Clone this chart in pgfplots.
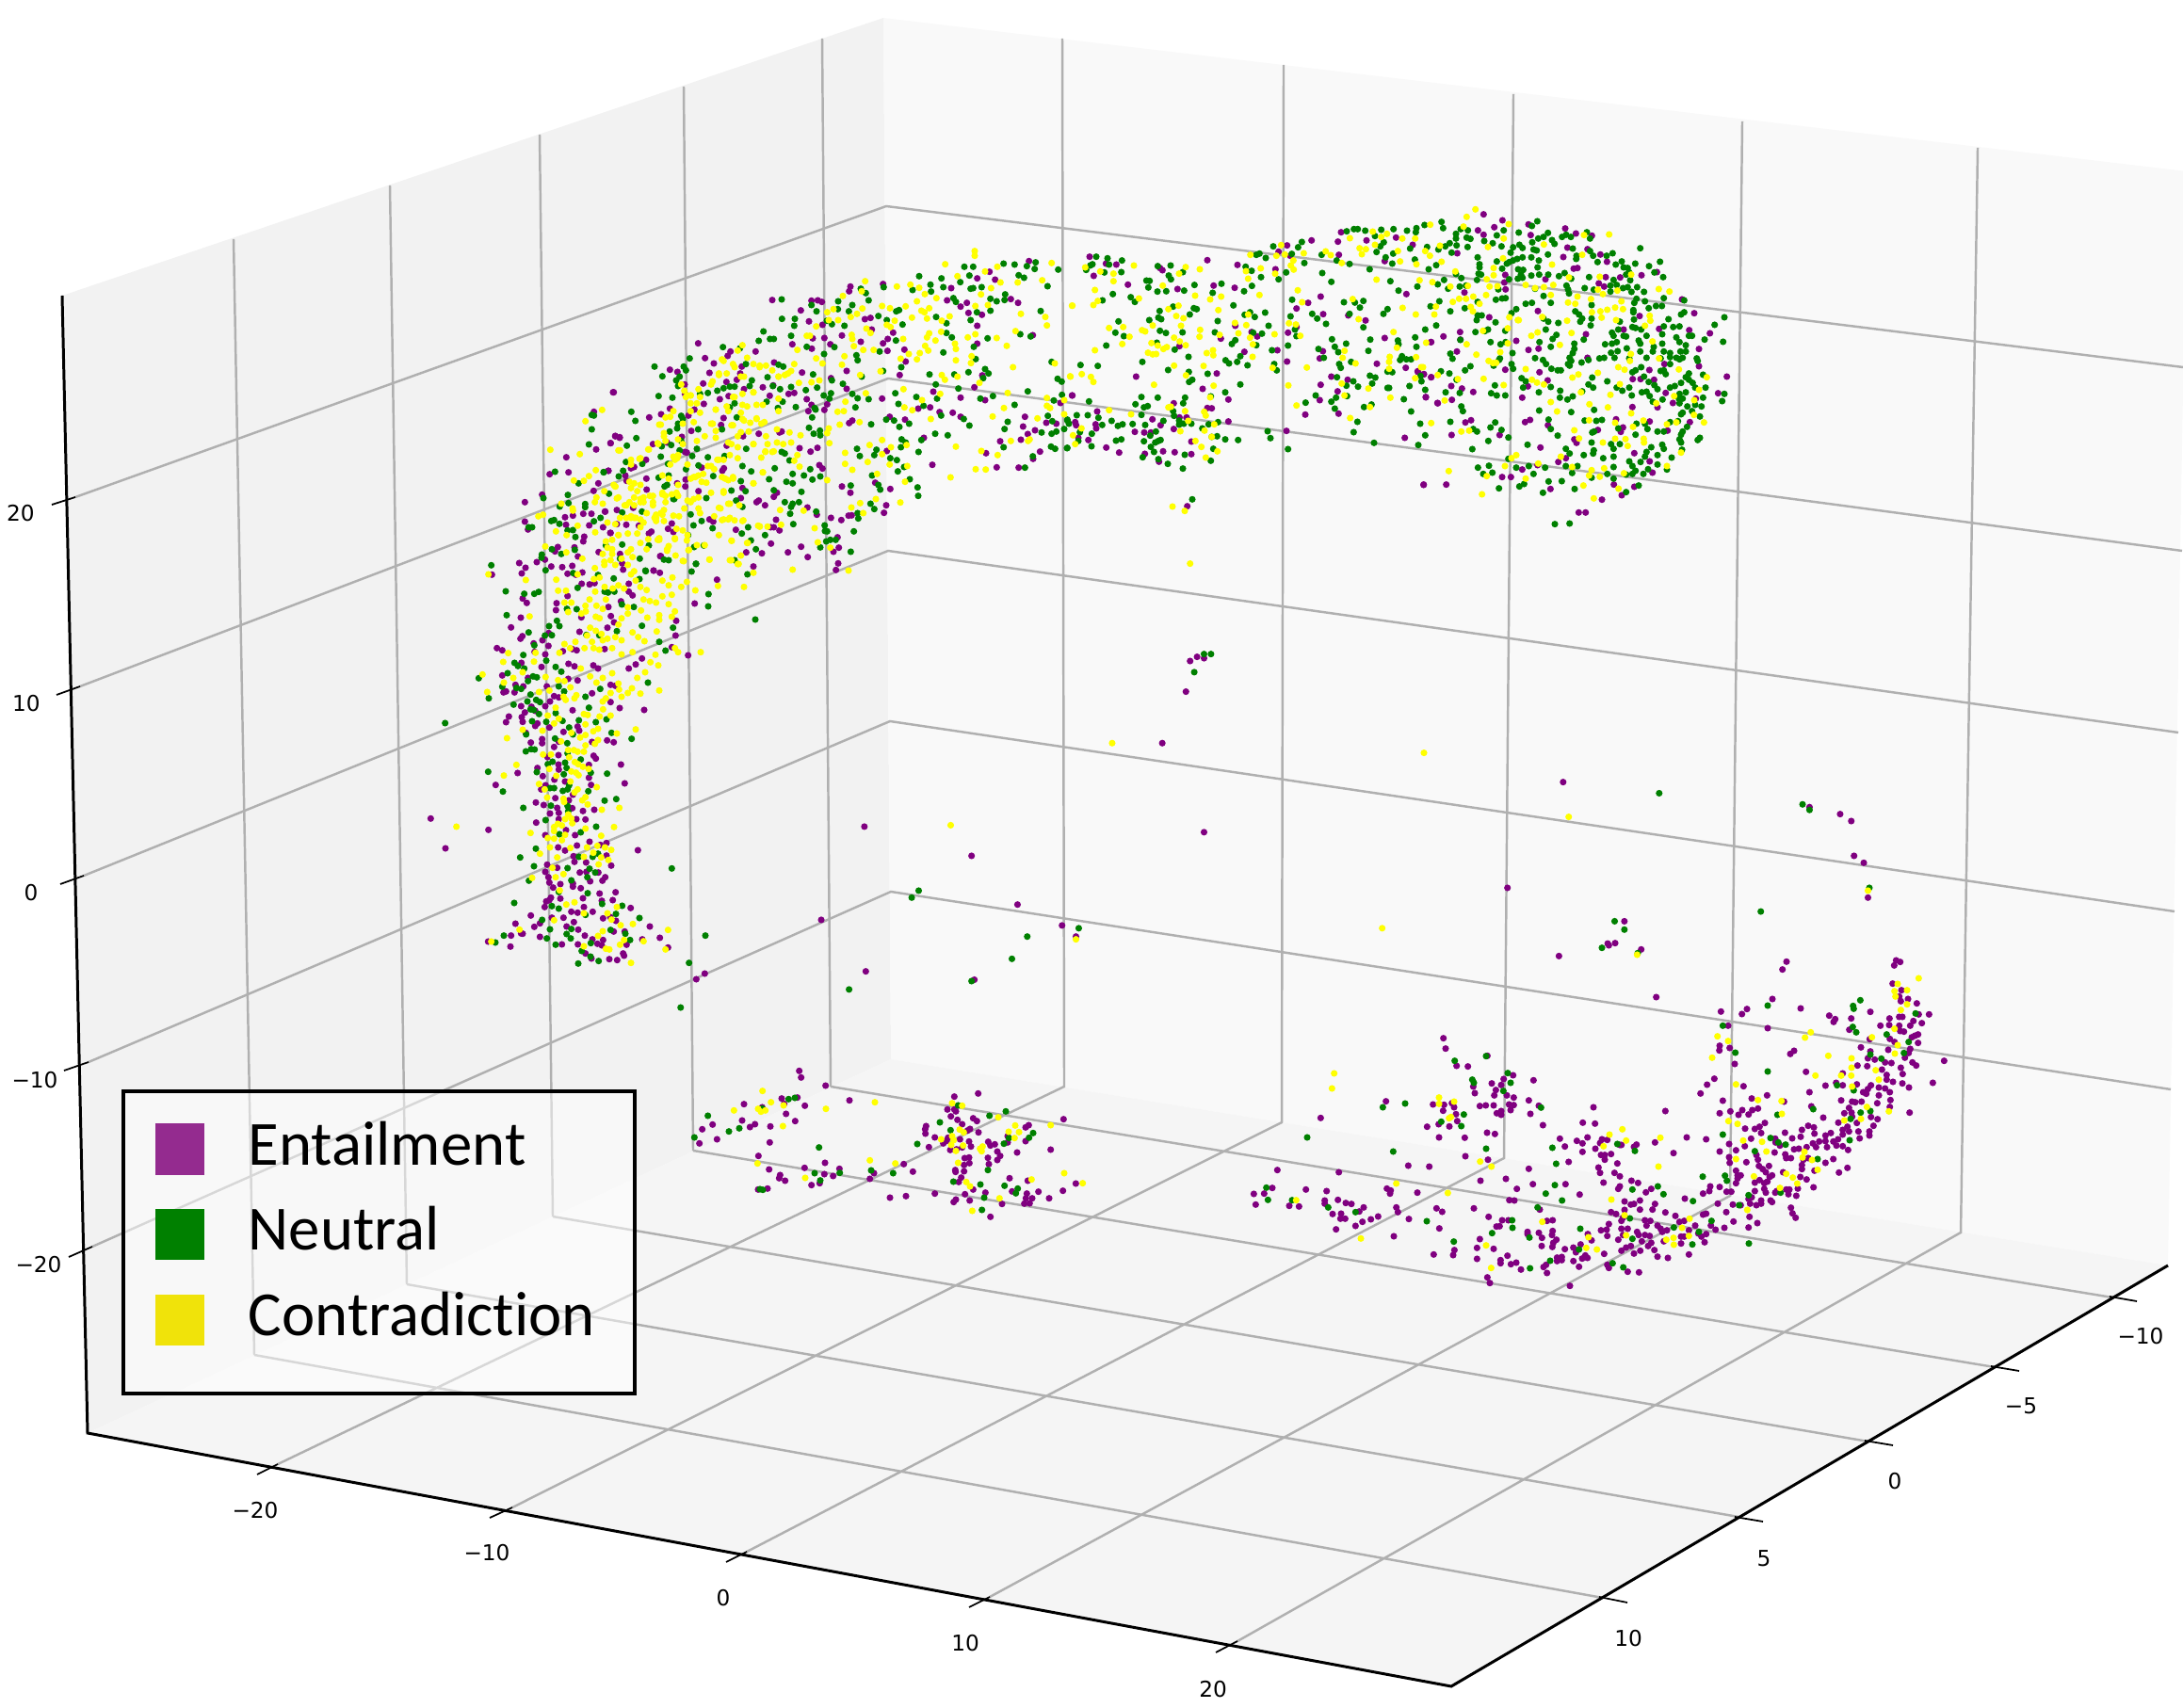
\documentclass[border=0pt]{standalone}
\usepackage{fontspec}
\setmainfont{DejaVu Sans}
\newfontfamily\legfont[Ligatures=NoCommon]{Carlito}
\usepackage{pgfplots}
\pgfplotsset{compat=1.18}
\definecolor{pur}{rgb}{0.5,0,0.5}
\definecolor{grn}{rgb}{0,0.5,0}
\definecolor{yel}{rgb}{1,1,0}
\definecolor{gridc}{HTML}{B0B0B0}
\newcommand\tk{\fontsize{6.6}{8}\selectfont}
% points were read off crops of the picture: crop coordinates /3 + crop origin, in image pixels
\pgfplotsset{
  /pgfplots/table/zm/.style 2 args={header=false,x expr=\thisrowno{0}/3+#1,y expr=\thisrowno{1}/3+#2},
  /pgfplots/table/dd/.style={header=false,x expr=\thisrowno{0}*1.478,y expr=\thisrowno{1}*1.478},
  pts/.style={only marks,mark=*,mark size=0.8pt,forget plot,color=#1,mark options={draw=none,fill=#1}},
  gl/.style={forget plot,color=gridc,line width=0.7pt,no marks},
  ax/.style={forget plot,color=black,no marks},
}
\begin{document}
\begin{tikzpicture}
\path[use as bounding box] (0,0) rectangle (23.18cm,18.14cm);
\begin{axis}[
  scale only axis,width=23.18cm,height=18.14cm,
  xmin=0,xmax=2318,ymin=0,ymax=1814,y dir=reverse,
  hide axis,clip=true,
  legend style={draw=none,fill=none,at={(axis cs:164,1190)},anchor=north west,inner sep=0pt,
    nodes={inner sep=0pt,anchor=base west},
    row sep=9.6pt,
    font=\legfont\fontsize{19}{19}\selectfont,
    /tikz/every odd column/.append style={column sep=13.2pt}},
  legend cell align=left,
  legend image code/.code={\fill[draw=none,#1] (0pt,-3pt) rectangle (15pt,12.4pt);},
]
% panes
\addplot[fill=black!5,draw=none,forget plot] coordinates {(66,314)(938,19)(946,1125)(93,1522)} -- cycle;
\addplot[fill=black!2.5,draw=none,forget plot] coordinates {(938,19)(2322,182)(2302,1344)(946,1125)} -- cycle;
\addplot[fill=black!3.75,draw=none,forget plot] coordinates {(93,1522)(946,1125)(2302,1344)(1541,1791)} -- cycle;
% grid
\addplot[gl] table[header=false] {
248 254
270 1439

414 197
432 1364

573 143
587 1292

726 92
736 1222

873 41
882 1154
};
\addplot[gl] table[header=false] {
1128 41
1130 1154
295 1555

1363 69
1361 1192
544 1601

1607 100
1597 1230
793 1648

1850 129
1837 1270
1051 1696

2100 157
2082 1309
1314 1743

270 1439
1702 1697

432 1364
1846 1611

587 1292
1984 1531

736 1222
2118 1452

882 1154
2243 1378

80 528
941 219
2318 390

85 729
943 402
2317 585

89 930
943 585
2313 778

94 1128
945 766
2309 968

98 1324
946 947
2305 1157
};
% purple
\addplot[pts=pur] table[zm={440}{380}] {
633 110
572 172
640 250
654 253
625 272
579 292
484 317
431 371
491 365
618 360
586 400
571 424
407 436
352 460
480 508
505 503
538 497
564 497
607 490
352 522
362 547
483 532
557 534
601 540
541 570
624 558
538 585
457 603
448 617
510 604
587 619
521 633
416 643
390 651
334 654
354 669
436 665
471 667
503 663
342 687
247 691
488 688
514 691
535 684
533 720
558 722
574 718
488 759
345 767
358 781
453 782
451 804
532 827
339 828
308 859
526 873
344 887
338 895
428 877
408 900
380 910
427 918
263 925
280 932
473 935
503 928
383 937
417 945
517 932
606 928
615 860
626 823
618 794
683 720
683 745
695 757
658 776
636 843
783 632
762 678
782 685
964 707
893 783
834 838
832 885
820 922
872 948
725 958
};
\addplot[pts=pur] table[zm={440}{700}] {
341 12
405 25
491 15
510 23
570 20
585 30
683 30
705 17
280 52
362 60
520 68
490 63
625 82
640 85
322 82
347 87
292 103
284 106
319 106
422 87
445 118
460 122
432 135
566 109
625 137
654 156
732 162
340 150
373 152
417 150
504 163
352 170
385 165
301 183
342 185
292 201
345 200
392 205
385 213
430 218
520 215
525 228
475 232
355 235
371 266
407 255
407 268
460 263
566 264
614 259
635 265
445 280
459 306
571 308
578 317
424 312
459 336
460 352
392 347
658 336
556 337
329 363
409 373
446 384
480 390
556 378
670 396
563 401
259 401
404 415
418 402
387 457
412 465
449 443
492 450
505 432
455 474
503 475
537 484
573 480
432 492
460 490
460 510
388 521
516 510
545 511
52 508
236 544
417 561
483 545
512 561
99 603
558 582
612 586
592 592
518 594
458 600
480 610
712 609
612 626
507 628
547 648
510 646
423 655
455 665
627 658
417 678
427 695
527 680
548 678
586 680
608 695
599 706
560 708
430 712
465 717
505 715
505 725
442 728
530 730
590 747
641 743
435 760
465 763
537 762
597 770
632 768
420 772
415 790
430 768
540 790
500 805
520 808
689 793
371 817
568 805
438 824
475 824
508 838
601 826
624 822
642 834
322 843
382 853
400 842
485 852
522 862
750 852
340 874
345 875
308 881
400 885
543 881
670 868
635 868
782 888
235 900
306 916
470 909
521 909
567 893
601 895
583 907
597 912
676 910
726 893
808 919
545 938
665 938
668 945
564 954
621 956
646 959
925 1002
898 1020
};
\addplot[pts=pur] table[zm={640}{250}] {
540 206
665 208
685 207
698 212
631 239
657 274
304 344
789 163
785 178
893 155
835 267
853 263
857 300
700 285
925 310
908 330
893 344
762 319
706 327
669 328
604 347
822 339
725 347
666 361
907 368
961 364
965 402
946 445
777 432
727 455
407 370
398 384
487 370
326 391
354 408
546 405
238 435
214 428
438 440
340 438
443 418
261 475
320 472
394 467
262 505
427 460
450 490
510 484
543 478
35 500
401 512
373 522
322 537
635 437
532 511
592 505
610 502
650 522
777 489
890 520
1140 517
1218 525
1053 498
1184 484
1209 446
1458 534
1495 510
715 538
706 556
665 540
655 560
148 580
186 570
214 552
273 574
292 555
385 582
377 604
563 628
570 625
497 632
447 640
282 623
252 642
40 639
54 645
25 662
160 665
205 660
395 670
627 678
684 677
662 689
262 690
268 692
138 715
100 738
90 742
18 750
315 740
381 750
386 742
72 765
76 782
139 775
264 778
237 790
263 800
305 815
690 732
700 743
916 808
868 788
762 800
789 820
903 860
896 884
793 892
783 893
652 867
682 890
727 900
760 907
445 805
545 833
555 820
497 845
490 850
440 837
517 860
140 810
97 868
45 875
8 880
45 920
75 922
115 925
147 950
155 944
25 948
208 935
225 945
220 918
340 905
352 912
424 938
552 906
545 930
535 930
563 940
536 982
632 992
457 1010
507 1013
590 1010
653 1025
735 1008
752 995
750 1045
743 1066
748 962
480 1055
185 1022
55 1015
62 1045
65 1065
162 1068
905 687
785 598
795 590
914 578
963 587
1005 552
1043 548
1073 563
1115 565
1140 578
1023 645
1050 731
1221 694
1255 739
1325 740
1371 712
1393 689
1354 633
1345 578
1339 609
1377 621
1413 597
1445 600
1332 651
1266 656
1097 207
1140 227
1160 215
1165 247
1208 253
1193 288
1193 345
1110 168
1232 116
1250 141
1193 137
1300 203
1323 215
1358 82
1370 318
};
\addplot[pts=pur] table[zm={1130}{220}] {
81 158
133 180
166 183
94 219
203 247
305 194
313 201
456 169
552 184
476 250
543 257
361 261
673 198
710 122
720 155
683 142
788 106
882 80
872 110
963 106
875 152
1057 97
1021 172
1110 120
1090 277
817 285
777 305
740 323
825 341
905 345
960 361
545 378
597 398
615 412
499 419
367 443
740 382
713 400
574 461
679 456
824 459
814 482
710 492
996 499
1021 417
1088 512
1127 525
1145 533
1169 542
1169 430
229 540
486 530
441 579
26 600
523 613
851 540
817 566
871 587
903 550
814 615
874 658
768 661
1152 606
1189 624
105 651
35 685
100 692
102 705
38 695
45 735
77 742
134 766
175 782
225 716
255 718
281 676
307 695
276 718
349 707
349 625
367 670
390 670
405 747
315 778
352 781
405 787
257 786
302 811
456 640
470 641
523 683
708 713
1085 735
1145 885
392 953
};
\addplot[pts=pur] table[zm={1500}{210}] {
226 53
286 72
369 85
260 94
208 104
226 118
376 119
486 98
520 114
571 121
142 177
493 159
480 189
557 164
598 181
619 204
513 226
525 224
615 253
661 254
729 247
778 237
423 260
295 246
292 270
296 292
165 302
593 273
610 283
858 324
897 368
399 361
244 381
723 377
672 420
785 418
881 422
947 432
552 435
151 428
98 442
58 460
152 452
330 456
141 490
369 485
401 481
912 482
557 510
802 530
912 537
754 549
295 548
404 556
16 553
36 562
59 572
430 582
769 580
701 578
726 578
1001 570
123 600
157 608
367 601
193 619
42 635
349 637
80 655
125 644
806 622
973 623
902 640
829 654
780 668
700 667
883 715
168 716
186 709
358 715
374 708
431 725
648 706
755 713
670 732
663 746
590 740
812 742
124 756
277 756
515 770
522 781
407 796
706 814
488 830
464 842
398 852
349 866
755 840
764 876
285 890
313 890
35 914
107 914
641 914
706 921
439 928
666 948
603 962
529 1003
551 1003
};
\addplot[pts=pur] table[zm={1700}{1000}] {
25 12
45 5
128 25
591 64
578 89
176 177
940 60
953 65
934 76
546 183
636 213
465 215
449 231
382 223
929 134
957 155
950 175
978 183
955 190
1006 197
858 224
727 236
746 247
741 256
797 245
1012 232
1045 232
919 245
950 240
960 240
995 253
1022 260
890 268
918 266
985 268
950 268
953 285
965 287
791 281
531 276
405 268
856 311
990 305
1010 296
1000 300
920 310
935 320
1010 323
378 332
377 347
410 339
828 337
915 345
985 342
980 355
968 370
615 348
603 358
858 350
850 372
872 376
1093 380
848 397
817 395
925 387
905 385
992 385
1004 395
955 402
895 408
426 390
653 415
961 422
770 420
910 425
910 440
930 447
361 437
338 456
454 461
317 484
749 450
715 459
770 458
815 455
960 452
981 465
1057 450
860 458
850 470
885 465
835 480
845 485
885 490
905 468
920 480
664 480
529 490
480 500
388 507
765 506
800 510
810 512
830 510
880 515
922 505
920 527
583 510
670 525
983 545
790 530
205 540
378 547
412 541
438 552
450 537
482 537
470 551
500 532
798 545
775 547
800 558
860 559
708 561
881 566
815 578
756 577
868 587
785 590
522 578
505 590
490 597
459 596
510 610
640 600
660 587
678 592
770 600
790 605
820 605
855 605
855 618
586 609
680 612
732 610
715 618
770 615
824 627
273 624
335 630
172 640
105 654
113 647
60 648
65 648
478 628
609 627
636 622
555 628
755 630
740 637
715 636
695 637
675 643
570 650
458 652
408 645
556 640
3 630
20 632
770 652
750 650
720 655
655 655
685 655
615 662
630 660
787 664
231 674
378 669
430 665
553 672
587 678
605 690
590 690
32 677
0 680
12 680
12 695
408 687
495 680
500 695
410 705
463 703
740 693
715 705
645 695
660 690
640 712
52 707
503 715
515 725
525 735
535 715
785 721
640 725
680 730
758 736
43 737
60 748
430 730
435 745
445 745
545 745
537 750
580 735
635 750
655 758
97 762
118 769
8 768
378 782
430 770
348 780
345 795
435 755
505 760
490 768
520 770
530 765
490 795
520 788
60 780
55 788
160 788
143 799
560 795
590 790
600 790
555 800
677 783
627 787
325 803
400 797
415 797
525 800
480 815
510 825
597 805
622 810
267 819
172 836
124 825
75 828
105 836
95 838
445 840
470 820
475 835
495 840
510 835
420 838
372 835
540 825
545 830
605 848
75 855
32 862
48 868
124 854
164 854
205 863
399 862
610 866
620 880
237 874
335 867
325 870
473 877
70 880
65 890
140 888
157 890
180 905
250 893
265 890
422 892
498 897
300 905
350 905
470 911
393 912
25 900
18 918
65 915
85 915
145 905
190 915
210 920
280 920
365 918
0 920
20 938
55 950
70 935
115 925
120 935
140 935
155 938
195 925
200 955
255 940
265 940
310 930
335 932
320 940
130 955
160 960
255 962
330 958
95 970
80 975
150 970
65 985
125 985
170 983
105 994
10 995
280 997
180 1004
213 1008
20 1030
25 1040
85 1052
121 1054
};
\addplot[pts=pur] table[zm={1300}{1080}] {
698 68
705 101
838 124
740 156
776 158
920 186
985 202
890 198
852 212
882 217
793 222
798 243
865 233
860 250
922 257
900 250
970 266
515 269
665 279
700 280
725 275
732 288
697 299
738 310
814 284
833 282
858 282
907 279
922 281
1002 283
975 309
868 307
882 312
882 300
912 297
307 322
646 350
683 342
717 349
742 332
1015 345
837 369
862 373
684 384
766 385
1069 388
1123 395
1141 403
1157 384
1176 288
1142 337
1181 340
1085 413
1141 430
1182 420
1197 402
768 444
840 455
586 474
653 477
1097 462
1192 480
1197 497
169 488
365 495
970 484
816 522
897 516
983 533
1087 533
260 550
153 545
94 564
127 563
326 555
518 547
530 553
528 563
615 560
932 548
1132 566
100 598
207 602
238 604
320 585
320 595
362 583
387 593
405 596
444 607
548 607
553 622
676 610
694 621
795 610
908 584
924 585
1005 614
345 628
372 627
370 643
385 643
430 620
490 636
467 645
440 653
418 666
356 677
588 644
842 637
885 648
905 648
1028 650
1046 648
867 668
877 667
685 674
966 685
966 692
1002 688
1046 682
1044 695
540 699
1012 704
1058 710
1048 720
1158 692
1170 712
814 708
805 736
858 739
733 743
729 759
1011 730
1045 733
1085 740
1112 735
1135 725
1120 750
667 757
805 771
902 761
880 775
880 785
913 788
930 783
1060 767
1075 765
1060 778
1075 775
1112 778
1140 770
1150 760
1157 768
945 805
1017 797
1025 790
1130 796
1028 816
838 830
846 848
1101 857
};
\addplot[pts=pur] table[zm={720}{1100}] {
386 112
392 133
470 159
546 206
880 194
956 184
330 200
380 197
338 217
210 218
404 223
268 228
344 249
204 270
373 272
110 283
77 298
245 282
229 291
294 289
124 330
68 343
292 340
256 383
290 426
403 421
468 405
514 424
466 441
494 447
325 444
322 454
341 462
425 476
451 470
285 487
255 490
624 438
611 456
719 409
748 433
675 516
726 511
818 503
858 235
880 235
885 241
869 257
890 268
905 282
940 263
952 272
790 288
787 298
788 312
930 297
922 302
957 308
818 324
860 325
855 335
845 343
898 330
927 337
799 355
867 364
887 362
905 356
933 353
988 338
995 350
1009 346
1017 369
1026 383
1017 396
987 389
913 390
927 388
928 406
911 412
990 409
883 428
884 434
911 432
902 452
894 466
940 490
979 500
914 505
929 525
878 530
885 522
1228 266
1117 285
1107 292
1107 336
1080 372
1187 363
1056 454
1114 462
1267 471
1226 494
1064 496
1148 497
1111 503
1182 518
1128 518
1108 518
1120 534
1103 535
1032 536
995 577
1050 320
1050 340
};
\addplot[pts=pur] table[dd] {
855 475
860 472
852 497
835 534
865 598
621 594
698 615
731 650
590 661
763 665
773 673
622 698
700 704
1123 562
1083 638
1120 687
1167 662
1155 678
1300 580
1322 585
1330 590
1332 615
1339 620
1342 645
865 473
};
% green
\addplot[pts=grn] table[zm={440}{380}] {
245 661
291 744
350 752
382 752
396 746
294 820
364 875
429 855
462 855
416 885
438 884
382 916
454 838
347 947
486 800
517 801
548 883
589 884
406 627
438 610
468 625
511 612
418 677
506 686
405 637
585 692
520 733
606 745
617 748
637 745
635 703
717 705
699 794
661 786
736 678
725 854
645 871
780 905
800 933
824 860
883 681
897 656
937 753
936 792
1086 834
1061 690
411 447
448 363
603 364
523 400
489 437
491 463
463 474
544 466
544 476
436 520
445 517
462 529
364 540
375 540
572 521
593 510
505 549
488 550
513 571
565 182
572 184
565 228
556 276
};
\addplot[pts=grn] table[zm={440}{700}] {
205 61
297 45
319 12
330 22
350 30
362 70
378 55
390 58
468 40
420 5
450 25
744 75
280 88
237 125
325 92
340 95
370 113
592 95
460 87
477 103
545 120
360 135
388 130
400 137
316 145
370 160
380 162
397 175
556 155
450 172
98 204
375 198
472 197
524 195
578 201
612 192
420 200
356 240
493 218
505 240
628 235
692 254
448 253
487 268
355 294
372 287
383 288
488 300
530 320
440 327
425 335
480 330
485 347
235 359
390 360
476 367
562 362
614 365
493 402
282 422
432 411
445 411
473 420
488 415
554 421
606 451
643 446
435 467
347 474
488 468
490 485
418 513
579 534
530 552
462 558
387 604
337 632
524 630
568 630
585 620
381 660
488 666
558 668
576 680
551 695
365 706
500 705
460 742
552 746
318 777
438 787
460 795
598 780
662 786
545 815
642 812
717 825
407 831
432 861
500 860
625 863
672 875
285 881
485 876
422 890
498 890
687 895
927 881
258 903
450 910
562 905
533 930
561 948
522 970
587 962
875 968
820 667
};
\addplot[pts=grn] table[zm={640}{250}] {
570 204
165 418
190 449
258 418
265 430
277 392
383 356
437 360
497 336
512 306
533 330
545 330
571 266
612 266
610 288
600 320
665 222
681 242
750 210
749 235
784 242
795 222
847 207
838 184
822 170
895 165
878 257
905 270
770 288
730 283
714 272
738 356
650 355
705 378
808 382
812 398
934 335
882 370
955 284
951 420
893 432
825 450
730 462
670 443
935 242
944 238
987 174
1008 130
1044 157
1046 179
1085 165
1079 137
1139 149
1152 100
1180 100
1168 128
1207 165
1172 170
1180 168
1117 200
1125 212
1095 280
1062 260
1172 270
1192 245
1235 240
1255 210
1235 202
1282 188
1280 206
1277 90
1312 93
1351 98
1379 86
1376 107
1451 109
1417 162
1325 127
1342 135
1395 241
1330 315
1363 322
1226 328
1182 355
1188 394
1085 373
1095 311
1112 325
1041 443
1120 443
1165 436
1212 455
1218 426
1229 440
1061 475
1133 488
1065 520
1203 520
1243 512
1354 497
1312 540
1430 403
1449 457
1462 466
1463 508
1437 526
932 503
999 515
942 537
1022 543
1078 574
1150 585
1168 606
903 587
928 590
945 610
976 600
855 602
805 548
847 522
812 519
795 505
765 473
727 503
704 510
722 520
683 485
647 493
600 483
565 490
542 480
525 452
468 480
475 462
560 412
575 418
456 410
420 482
405 482
385 487
365 495
335 502
310 505
245 450
234 462
240 480
178 512
222 517
91 562
104 591
250 575
255 585
240 600
237 615
107 646
77 670
213 625
304 618
380 618
427 580
420 535
405 548
522 530
573 530
558 550
615 547
675 550
678 555
667 580
657 613
672 632
692 622
693 637
570 690
580 695
595 717
548 742
661 745
641 765
693 768
668 778
605 760
585 785
605 790
530 777
457 680
388 703
335 707
300 680
285 703
250 655
245 685
188 672
218 668
185 705
208 728
126 728
74 722
65 750
51 768
3 755
210 765
265 745
305 733
445 735
473 752
352 767
440 783
178 772
197 800
205 795
20 823
62 883
125 880
225 840
330 837
410 813
455 815
425 845
445 865
545 812
633 817
580 850
605 855
625 850
600 865
597 887
680 880
607 920
707 924
715 943
800 943
812 885
814 902
853 855
865 872
884 810
878 795
858 765
790 797
1003 803
1005 830
978 777
940 752
960 738
916 710
937 716
819 703
810 680
872 683
865 700
952 650
965 660
950 675
1006 690
1015 652
1059 632
1099 637
1280 617
1290 594
1418 575
1432 592
1470 617
1480 590
1445 625
1430 632
1277 675
1370 704
1345 740
1428 673
1441 680
1480 677
1398 628
708 942
742 970
725 970
712 975
693 994
790 1008
463 930
488 1000
472 972
517 955
443 950
315 910
289 924
350 933
272 955
291 993
322 988
228 840
280 889
62 985
147 988
118 1030
195 1033
210 1035
297 1047
420 1035
10 988
55 1030
137 1070
};
\addplot[pts=grn] table[zm={1130}{220}] {
102 158
138 163
143 183
184 170
90 182
83 186
70 200
128 208
182 207
298 188
339 186
378 207
333 218
340 230
262 234
272 235
268 256
297 269
325 268
382 266
415 248
473 273
501 244
573 268
598 251
155 277
122 297
212 287
225 302
578 190
597 203
627 223
683 230
707 208
666 125
612 152
622 148
642 162
745 128
757 111
725 149
765 178
820 152
868 170
909 181
900 77
923 70
935 70
959 75
990 92
1010 72
1049 70
1092 75
1018 112
1007 125
995 143
1048 148
1024 160
1045 180
1102 132
973 198
822 210
851 238
1039 236
1065 266
304 331
347 317
413 322
422 325
400 342
300 352
309 357
271 360
173 364
163 400
190 411
134 441
305 394
324 401
377 399
489 363
480 399
539 313
575 343
592 335
607 350
640 336
651 378
602 400
630 403
545 424
534 436
612 440
295 432
352 454
396 477
249 493
52 503
107 506
331 519
397 525
457 531
408 550
398 557
514 488
525 498
551 493
561 475
584 504
662 456
669 500
677 520
713 441
726 295
721 348
790 340
806 355
834 372
740 411
735 390
891 303
926 304
953 299
942 320
909 340
1030 325
1017 340
953 383
853 421
862 445
898 435
873 462
810 452
827 480
969 458
975 422
914 493
876 500
881 512
1063 425
1065 437
1076 475
1070 487
1090 485
1105 485
1030 524
1045 526
974 537
991 543
981 562
869 542
899 569
921 555
936 572
1100 570
1030 576
1035 576
1082 612
801 600
769 623
866 607
851 620
862 642
901 602
955 637
979 629
1105 651
934 684
922 717
987 751
561 565
513 590
467 603
385 607
379 625
298 607
246 605
227 628
254 638
266 634
79 619
347 650
350 665
246 662
40 663
75 663
10 677
109 671
15 690
121 694
151 681
171 697
186 692
218 691
258 694
316 681
366 680
366 693
381 690
405 690
440 705
460 692
490 685
50 717
88 722
45 745
9 768
87 762
165 744
182 740
254 746
274 728
292 715
307 742
290 750
276 764
286 780
300 745
250 797
300 803
330 818
384 789
475 770
467 808
378 833
487 730
470 732
513 740
554 742
648 714
657 736
713 771
408 931
};
\addplot[pts=grn] table[zm={1500}{210}] {
92 77
38 87
97 97
12 97
10 110
397 75
380 90
153 100
176 104
338 111
431 112
489 118
504 125
138 115
172 127
184 131
138 130
228 138
140 152
118 145
104 155
46 157
82 165
124 175
175 157
283 155
255 145
268 120
290 104
340 150
320 158
312 175
350 160
381 142
400 130
417 125
444 135
452 147
476 125
565 130
555 110
510 162
385 165
395 168
522 185
565 170
575 185
637 177
618 185
725 161
207 190
213 212
213 222
300 210
308 205
320 200
333 195
350 190
378 190
402 200
431 181
521 195
589 205
666 203
647 213
709 210
788 204
753 218
672 222
685 224
398 222
268 203
285 226
336 228
352 230
345 245
335 258
350 255
378 248
403 245
432 245
466 250
484 240
505 258
562 253
680 245
690 238
770 238
798 253
693 263
640 262
155 256
138 243
100 262
210 242
205 262
218 245
307 260
51 228
75 215
7 197
80 276
15 283
113 290
150 283
170 280
273 292
296 320
265 325
285 321
390 290
490 280
495 292
548 288
577 293
630 280
630 299
650 278
670 288
685 285
715 285
697 300
737 300
498 305
417 313
380 335
360 338
440 335
713 322
740 330
706 335
800 320
794 345
865 327
775 345
85 330
57 346
207 332
166 352
120 362
330 355
315 368
220 375
207 375
204 390
417 385
432 395
570 342
518 362
530 372
540 385
570 385
534 395
567 407
703 358
703 365
752 352
855 372
865 365
815 387
993 381
962 405
705 388
660 395
264 397
464 399
424 420
458 437
635 430
640 440
655 420
700 412
710 415
728 420
800 410
830 412
850 410
40 420
75 407
200 428
230 425
240 420
295 424
8 445
12 475
152 453
248 460
280 467
296 460
404 460
446 450
440 475
545 452
613 467
635 465
650 460
672 440
745 440
680 442
720 455
725 465
795 435
840 445
850 460
880 440
890 440
870 470
930 452
989 459
795 465
768 475
765 490
800 490
515 465
515 482
510 495
500 510
682 480
653 489
632 494
725 490
820 495
870 490
853 490
120 497
127 513
318 495
278 512
275 517
390 511
415 517
425 530
495 530
505 520
538 525
560 517
595 512
610 510
643 510
690 512
745 510
790 512
820 508
850 515
905 512
908 520
820 530
860 510
840 510
184 537
167 550
90 553
25 568
28 585
117 560
140 580
258 535
315 530
320 545
442 545
462 550
472 550
500 535
728 540
710 550
700 556
800 550
790 552
880 560
870 572
925 564
806 562
347 575
360 585
352 605
440 603
572 573
560 595
575 605
620 585
650 605
668 615
690 605
737 570
752 587
770 597
780 610
855 590
835 600
820 605
880 580
892 590
933 605
900 605
40 612
105 620
150 622
262 598
250 623
268 630
295 630
402 620
470 615
469 637
493 643
510 633
540 617
698 630
730 620
745 618
755 632
765 650
796 643
850 625
870 620
848 640
860 640
925 637
993 625
986 648
155 665
160 680
850 655
875 665
900 660
920 665
860 685
855 690
890 680
915 697
403 678
505 683
578 676
24 720
120 714
263 716
248 732
193 737
205 745
283 740
433 707
440 737
548 710
585 711
713 720
740 720
748 737
780 745
800 745
820 715
845 712
874 730
860 745
855 755
40 757
305 764
241 775
462 758
572 748
578 745
603 708
632 785
660 785
570 780
710 755
655 735
915 765
908 772
850 770
855 780
190 801
18 788
366 787
577 805
640 800
545 820
760 795
795 787
800 800
858 803
825 828
780 820
740 825
745 810
726 842
500 815
488 800
575 815
607 830
640 825
690 840
780 850
700 855
810 866
305 832
208 860
243 854
330 860
370 855
422 860
225 880
254 876
385 880
488 855
525 855
620 880
640 858
508 877
570 892
680 882
700 880
735 880
710 870
750 865
640 895
433 904
475 903
275 926
340 920
355 912
415 940
516 928
680 938
720 917
453 1040
500 1038
};
\addplot[pts=grn] table[zm={1700}{1000}] {
3 20
117 37
826 187
803 205
805 214
531 204
802 272
813 289
910 296
388 268
1002 229
980 320
428 354
858 360
893 373
965 355
531 414
752 458
805 474
676 534
562 552
827 545
858 540
795 565
792 633
388 615
540 626
565 640
588 647
52 645
108 667
490 668
690 693
324 749
395 746
401 762
181 780
100 790
199 805
293 827
572 800
470 808
440 840
92 882
352 890
232 911
312 925
100 947
291 965
471 962
37 1025
71 1038
};
\addplot[pts=grn] table[zm={1300}{1080}] {
734 140
834 125
903 179
790 200
795 210
912 210
889 236
576 276
505 288
763 311
691 334
755 348
1009 289
264 384
538 429
834 420
1045 417
1057 468
134 544
139 583
216 584
331 607
418 622
645 651
1053 536
1024 563
1076 585
998 607
917 648
918 672
853 689
972 703
1134 675
731 716
1130 741
1038 777
974 801
};
\addplot[pts=grn] table[zm={720}{1100}] {
352 202
372 198
268 232
95 255
52 324
162 305
195 295
449 356
435 438
515 437
453 461
261 489
270 491
615 429
685 438
892 222
1044 241
992 255
834 276
868 301
762 345
1054 326
1131 310
1118 325
1038 344
987 428
877 465
963 474
1040 478
1082 487
1076 502
975 516
968 555
};
\addplot[pts=grn] table[dd] {
865 470
870 470
858 483
660 640
655 645
775 667
738 673
727 689
698 705
610 711
489 724
1192 570
1295 578
1300 582
1160 662
1167 668
1343 638
1265 655
};
% yellow
\addplot[pts=yel] table[zm={440}{380}] {
598 166
545 202
433 293
527 307
556 377
578 358
540 392
508 391
468 465
395 505
410 500
504 480
505 487
451 553
576 556
485 565
417 601
484 620
355 708
452 707
367 824
458 742
483 742
478 780
500 780
490 810
299 941
386 940
462 940
478 912
496 925
513 905
542 925
550 885
566 905
571 925
589 930
560 860
578 870
596 880
532 815
546 808
578 825
590 830
600 800
545 790
558 770
580 790
576 745
572 705
590 700
606 730
610 770
632 735
650 725
668 735
690 690
705 710
720 730
740 740
730 770
750 775
770 780
790 760
810 785
820 755
790 710
810 725
822 700
850 730
868 714
895 741
967 727
1050 730
780 820
780 835
830 808
820 825
742 828
722 805
680 795
680 815
660 830
650 850
695 875
713 890
733 903
772 872
840 938
912 938
830 925
768 946
695 938
660 945
630 925
600 900
615 895
640 890
660 900
236 690
520 535
535 640
520 690
575 670
880 120
910 125
880 145
905 100
945 85
960 165
1000 170
1045 150
1045 195
1090 195
1110 150
1160 170
1160 130
1080 110
1015 125
1100 30
1050 60
970 55
985 10
1160 60
950 210
1010 215
1065 235
1115 205
1030 250
960 255
1000 270
1080 275
1125 275
1155 270
1145 298
1118 300
1030 320
1005 310
985 325
965 325
1105 318
1080 400
1110 365
1000 390
1015 380
990 385
945 345
905 375
895 380
880 385
930 398
915 395
985 430
1000 465
1035 470
970 478
955 505
985 515
1005 510
1020 518
1048 518
1100 537
1095 535
1010 583
1060 590
1040 630
1005 645
1033 657
1080 685
940 643
855 647
875 612
900 597
925 597
870 565
855 550
835 545
810 600
805 615
775 580
780 575
830 578
770 520
795 520
825 503
843 505
860 480
880 460
905 480
910 495
795 485
785 495
770 500
760 440
790 430
800 440
820 435
835 430
840 405
810 385
790 375
775 272
800 265
830 325
840 310
870 340
815 340
720 320
690 325
650 295
745 292
785 213
795 240
880 170
850 85
860 105
865 125
700 400
720 405
685 395
690 415
710 425
760 460
720 450
730 460
700 470
675 470
650 445
640 410
635 405
605 425
580 445
575 460
600 465
740 495
770 510
705 510
675 510
655 510
640 530
690 510
730 525
720 540
680 560
650 565
710 560
720 590
740 610
690 610
610 585
630 580
615 605
630 610
600 625
625 645
605 650
680 620
695 635
640 660
660 640
680 660
700 680
};
\addplot[pts=yel] table[zm={440}{700}] {
283 9
381 8
217 49
345 42
418 57
315 60
232 105
285 75
458 67
478 70
497 90
430 100
397 105
516 115
510 125
475 120
482 130
450 155
425 180
625 180
590 183
601 160
540 175
552 178
610 125
625 108
600 135
660 120
680 108
693 93
720 110
780 100
530 30
560 55
580 75
600 60
630 45
650 78
652 97
735 42
777 20
752 10
710 60
345 225
295 252
408 228
445 205
460 190
545 208
585 222
570 230
545 242
528 250
705 224
645 237
575 270
585 258
545 275
500 235
467 262
410 304
435 304
490 290
508 290
520 295
540 295
493 313
511 328
522 335
537 343
555 350
430 350
325 337
285 371
500 358
515 362
523 370
452 372
497 390
397 398
415 415
581 408
520 415
510 425
545 440
535 450
423 441
475 445
477 455
552 463
597 480
653 474
490 495
500 508
480 510
457 525
470 530
503 523
445 535
445 548
370 554
134 534
545 540
636 535
595 563
480 560
470 577
445 572
425 570
432 600
400 620
497 602
550 600
583 595
607 600
627 608
570 617
540 630
595 632
618 640
587 654
455 632
440 665
475 685
450 695
375 697
463 737
484 782
510 775
540 810
645 790
615 810
628 830
657 848
696 844
808 863
445 832
335 862
600 867
585 882
245 900
730 899
800 925
655 910
668 895
540 915
610 923
621 925
690 968
};
\addplot[pts=yel] table[zm={640}{250}] {
836 146
825 178
765 193
1185 50
1185 65
1091 92
1430 88
1257 100
1218 115
1130 130
1400 143
1322 150
1267 150
1237 168
937 163
980 157
1008 167
1026 187
1063 200
1001 210
1040 232
965 226
1015 240
1025 245
985 262
1033 265
1105 258
1080 272
1205 188
1227 222
1187 225
1332 250
1410 260
1415 287
1495 224
915 232
890 225
827 233
735 235
715 245
750 270
790 260
810 250
930 272
905 285
917 292
840 297
853 311
793 317
795 330
800 353
830 365
863 365
957 330
1040 312
1033 325
1060 335
1078 307
1122 345
1125 362
1163 325
1187 315
1255 327
1287 352
1315 305
1027 352
1010 375
975 378
1037 367
1001 395
949 393
1125 398
1173 407
1175 385
1307 420
1440 408
1490 450
1080 445
1090 460
1130 450
1200 470
1290 502
1075 505
1415 518
1415 543
1425 550
1278 550
1242 577
1385 583
1470 570
958 490
1017 525
961 548
986 557
1045 585
818 595
755 603
748 562
768 560
773 530
838 503
720 615
715 630
722 662
890 652
850 668
1125 673
1206 687
1258 700
1355 655
1360 650
1300 655
1188 745
1220 746
1108 771
970 735
914 730
963 785
948 851
820 853
792 867
830 885
870 840
795 747
772 728
844 722
772 693
874 760
890 697
918 675
968 668
715 780
627 737
620 700
610 718
540 690
518 688
575 665
595 628
630 637
600 660
520 640
480 665
430 675
410 665
555 618
505 600
490 583
470 597
440 627
415 605
360 623
350 600
325 640
300 655
255 665
180 603
215 578
195 640
177 665
147 682
55 685
117 712
237 710
225 705
90 730
40 800
100 835
45 838
85 850
120 850
130 835
150 830
160 860
190 825
200 850
240 830
270 845
290 840
305 835
345 820
385 815
380 770
415 775
355 745
335 735
370 715
320 760
290 770
510 755
480 790
405 855
375 870
400 905
380 907
445 910
500 928
525 928
568 922
565 875
640 877
675 933
370 955
411 973
462 980
340 1033
258 1038
232 1020
180 970
230 965
268 972
273 1003
205 1000
145 968
100 900
90 895
70 860
120 905
165 900
190 890
15 915
50 955
30 1015
5 1050
430 1047
410 1035
685 978
725 995
605 1065
783 1068
445 350
430 367
460 390
415 410
380 395
500 415
520 415
480 410
540 430
580 445
600 432
590 440
560 450
610 410
650 320
660 320
680 290
720 270
620 365
680 392
700 408
770 385
762 412
820 445
885 433
690 462
665 468
625 470
440 450
395 440
370 440
350 465
445 505
480 500
420 515
395 545
360 555
460 545
490 540
440 565
450 590
420 420
270 510
300 535
280 510
310 565
345 600
255 600
225 560
200 580
290 595
240 650
};
\addplot[pts=yel] table[zm={1130}{220}] {
67 192
115 205
157 212
157 236
222 186
98 264
107 299
93 312
26 314
238 291
314 250
366 212
387 191
432 198
417 282
465 294
500 285
622 280
579 204
626 195
586 228
672 212
593 152
676 155
691 121
703 151
763 147
730 170
722 186
731 199
744 265
758 303
833 141
849 153
884 178
910 99
941 131
948 150
961 134
983 78
990 120
1010 95
1028 85
1077 100
1070 173
1063 140
995 231
919 293
1078 321
938 357
1049 398
1060 448
1037 477
1035 493
1035 515
969 578
1039 607
974 637
740 632
911 672
884 562
893 600
887 480
893 458
928 498
773 511
714 568
716 370
738 374
752 410
670 405
664 512
600 477
601 437
592 416
555 402
580 376
544 369
586 342
491 328
332 325
364 314
357 347
380 354
372 378
282 377
258 396
248 392
208 413
188 382
143 385
185 436
98 456
278 433
298 441
327 446
316 452
267 464
282 469
293 468
350 416
368 428
387 440
431 413
433 391
495 407
454 465
474 456
475 472
444 506
350 505
388 536
286 566
476 569
465 606
19 539
56 532
85 541
93 557
143 647
213 660
332 638
340 636
385 650
395 681
446 652
451 664
447 712
478 692
470 732
370 714
418 745
437 764
488 778
451 798
28 727
35 755
55 705
345 954
384 968
0 615
};
\addplot[pts=yel] table[zm={1500}{210}] {
200 37
172 61
306 84
56 86
162 92
546 119
626 117
8 130
290 130
87 153
240 157
418 149
40 170
55 185
92 204
540 182
288 193
12 212
444 213
136 235
258 224
258 247
596 252
696 245
22 263
63 269
236 260
120 283
176 281
245 283
270 282
360 278
390 288
418 285
448 278
498 254
590 293
606 307
652 296
784 291
818 299
234 310
193 315
170 322
148 322
128 332
213 338
185 348
192 362
74 347
69 372
10 372
440 310
495 334
525 315
568 323
518 338
645 350
665 330
620 357
670 355
598 362
571 365
308 381
335 390
338 390
413 380
492 392
602 382
648 390
755 376
757 392
740 408
303 416
506 431
398 429
378 440
224 424
172 467
43 462
303 464
469 469
764 458
279 492
203 500
11 508
695 498
785 512
692 520
242 520
256 527
266 526
27 540
33 540
360 546
590 558
528 563
509 573
655 540
675 548
848 547
8 575
80 565
226 577
144 578
290 597
380 580
396 589
418 595
937 572
660 594
536 620
630 628
912 612
833 632
897 645
776 655
102 646
440 651
563 658
622 668
460 681
696 687
896 692
59 718
562 709
645 717
735 710
810 722
840 716
928 716
702 730
155 745
180 742
515 741
645 768
678 769
736 768
737 780
530 767
606 780
685 791
855 812
330 820
315 830
294 855
472 825
400 847
508 858
570 868
610 862
810 855
115 871
562 885
596 889
236 887
360 895
673 878
544 917
656 927
221 945
577 958
};
\addplot[pts=yel] table[zm={1700}{1000}] {
115 42
945 135
975 155
935 158
938 175
1012 117
975 200
955 218
935 278
945 330
936 357
863 305
371 302
405 317
354 370
668 289
650 306
724 364
798 372
798 402
683 427
797 427
875 410
885 440
765 427
430 455
500 505
575 508
800 462
847 527
917 541
576 549
406 572
435 581
828 565
775 570
68 598
27 615
80 634
189 625
8 652
453 634
513 638
527 669
430 693
648 670
642 688
672 696
690 727
183 717
487 748
590 740
611 752
625 771
570 785
33 822
466 855
282 883
258 912
80 936
208 950
231 944
232 966
280 938
75 872
};
\addplot[pts=yel] table[zm={1300}{1080}] {
350 180
343 228
684 257
684 277
732 270
716 323
722 319
548 531
712 561
815 461
851 477
229 584
1013 653
435 706
834 728
1160 702
1153 736
1187 741
850 800
};
\addplot[pts=yel] table[zm={720}{1100}] {
269 176
178 238
296 212
255 233
278 238
264 242
336 222
334 288
471 233
627 212
253 407
405 453
611 397
692 407
873 215
905 223
1020 260
897 299
910 308
1074 286
1053 306
1086 307
1072 326
1187 285
873 320
838 330
878 333
870 348
908 350
885 367
962 360
970 353
967 368
892 405
1230 438
1126 458
918 466
930 480
1289 470
1024 518
937 558
};
\addplot[pts=yel] table[dd] {
855 405
799 534
683 593
1023 541
1127 587
993 667
1342 640
773 675
};
% axis lines and ticks
\addplot[ax,line width=0.85pt] coordinates {(66,314)(93,1522)(1541,1791)(2302,1344)};
\addplot[ax,line width=0.5pt] table[header=false] {
55 536
80 528

60 738
85 729

64 939
89 930

68 1137
94 1128

73 1335
98 1324

273 1566
295 1555

520 1612
544 1601

771 1659
793 1648

1029 1707
1051 1696

1291 1755
1314 1743

2240 1377
2269 1382

2114 1451
2144 1456

1980 1530
2010 1535

1842 1611
1872 1616

1698 1696
1728 1702
};
\node[font=\tk] at (axis cs:22,545) {20};
\node[font=\tk] at (axis cs:28,747) {10};
\node[font=\tk] at (axis cs:33,948) {0};
\node[font=\tk] at (axis cs:37,1147) {−10};
\node[font=\tk] at (axis cs:41,1343) {−20};
\node[font=\tk] at (axis cs:271,1604) {−20};
\node[font=\tk] at (axis cs:517,1649) {−10};
\node[font=\tk] at (axis cs:768,1697) {0};
\node[font=\tk] at (axis cs:1025,1745) {10};
\node[font=\tk] at (axis cs:1288,1794) {20};
\node[font=\tk] at (axis cs:2273,1419) {−10};
\node[font=\tk] at (axis cs:2146,1493) {−5};
\node[font=\tk] at (axis cs:2012,1573) {0};
\node[font=\tk] at (axis cs:1873,1655) {5};
\node[font=\tk] at (axis cs:1729,1740) {10};
% legend panel
\addplot[forget plot,fill=white,fill opacity=0.5,draw=black,draw opacity=1,line width=1.4pt] coordinates {(131,1159)(674,1159)(674,1480)(131,1480)} -- cycle;
\addlegendimage{fill={rgb,1:red,0.58;green,0.17;blue,0.56}}
\addlegendentry{Entailment}
\addlegendimage{fill={rgb,1:red,0;green,0.5;blue,0}}
\addlegendentry{Neutral}
\addlegendimage{fill={rgb,1:red,0.94;green,0.89;blue,0.04}}
\addlegendentry{Contradiction}
\end{axis}
\end{tikzpicture}
\end{document}
